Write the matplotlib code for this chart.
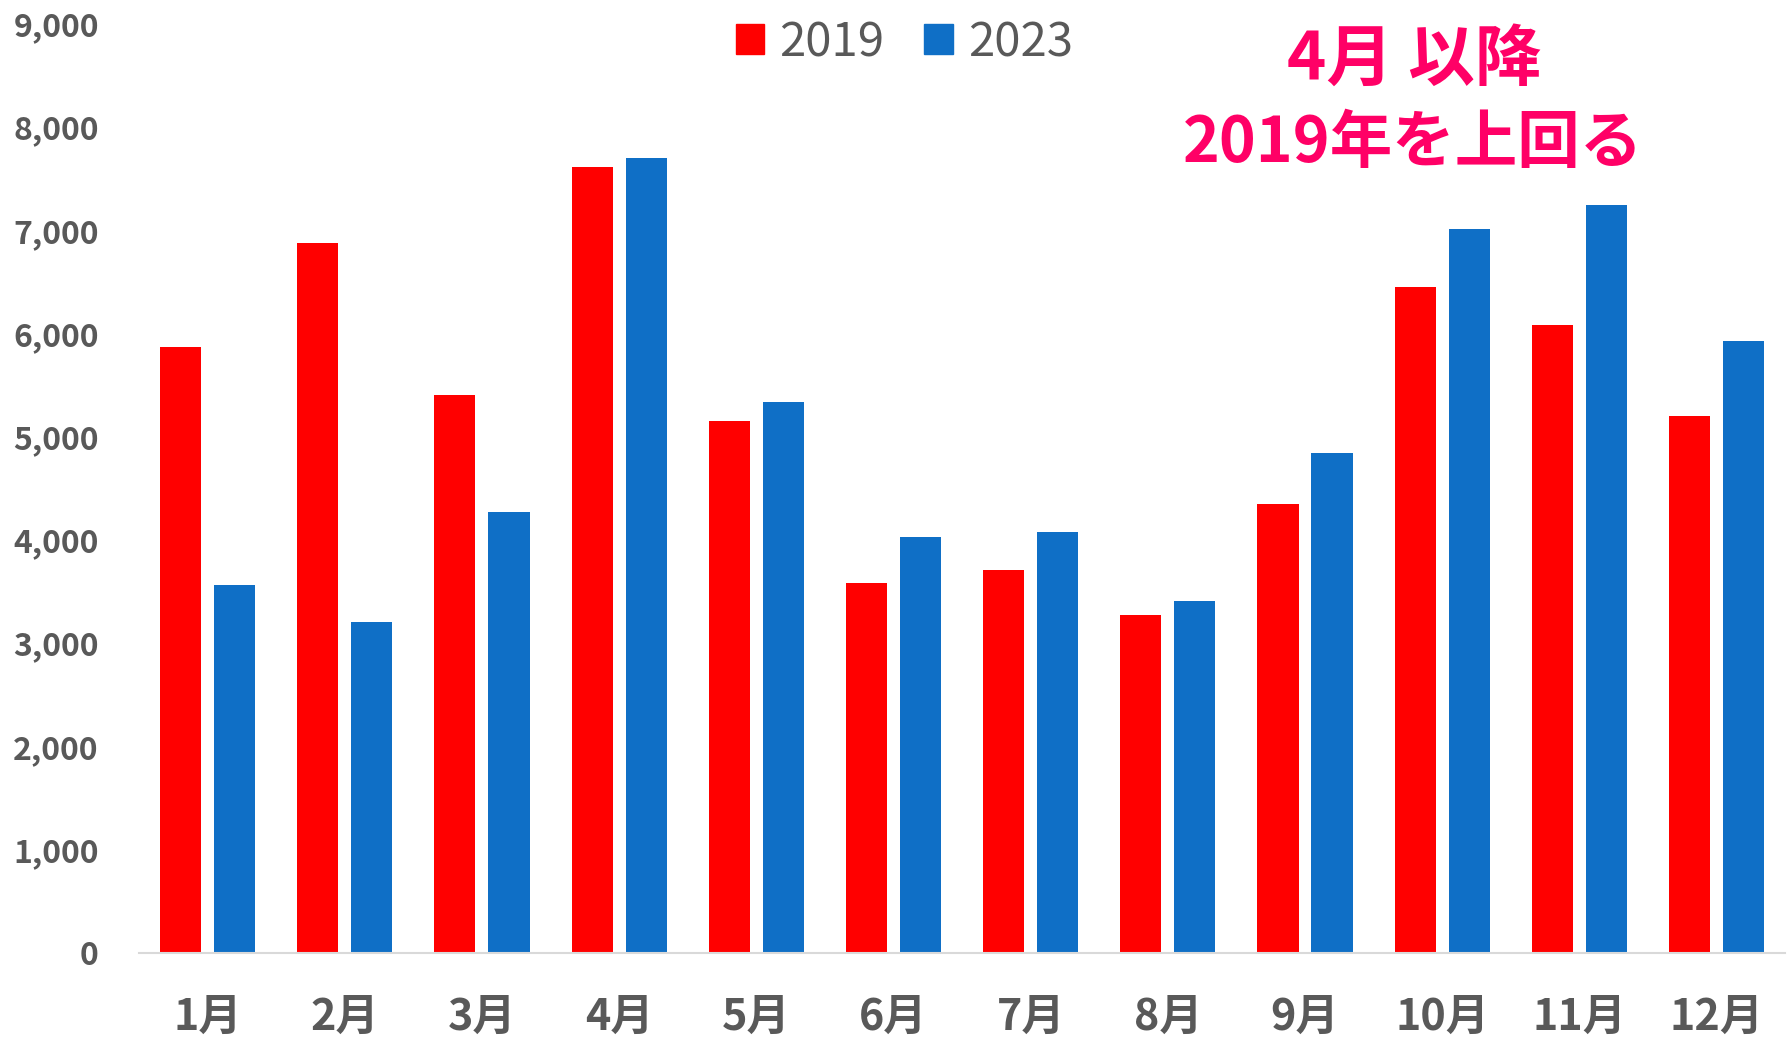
import numpy as np
import matplotlib
matplotlib.use("Agg")
import matplotlib.pyplot as plt
from matplotlib.patches import Patch
from matplotlib.ticker import FuncFormatter

# -----------------------------
# Data
# -----------------------------
months = ["1月", "2月", "3月", "4月", "5月", "6月",
          "7月", "8月", "9月", "10月", "11月", "12月"]
values_2019 = [5870, 6880, 5400, 7610, 5150, 3580, 3710, 3270, 4350, 6450, 6085, 5200]
values_2023 = [3560, 3200, 4275, 7700, 5335, 4030, 4075, 3410, 4840, 7015, 7245, 5930]
series_labels = ["2019", "2023"]

RED = "#FF0000"
BLUE = "#0F6FC6"
GRAY = "#595959"
PINK = "#FF0066"

plt.rcParams["font.family"] = ["Noto Sans CJK JP", "DejaVu Sans"]

fig = plt.figure(figsize=(17.87, 10.45), dpi=100)
ax = fig.add_axes([0.0778, 0.0883, 0.9211, 0.8888])

x = np.arange(len(months))
bar_w = 0.30
offset = 0.197
ax.bar(x - offset, values_2019, width=bar_w, color=RED, label=series_labels[0])
ax.bar(x + offset, values_2023, width=bar_w, color=BLUE, label=series_labels[1])

ax.set_xlim(-0.5, len(months) - 0.5)
ax.set_ylim(0, 9000)
ax.set_yticks(np.arange(0, 9001, 1000))
ax.yaxis.set_major_formatter(FuncFormatter(lambda v, p: f"{int(v):,}"))
ax.set_xticks(x)
ax.set_xticklabels(months)

for side in ["top", "right", "left"]:
    ax.spines[side].set_visible(False)
ax.spines["bottom"].set_color("#D9D9D9")
ax.spines["bottom"].set_linewidth(1.5)

ax.tick_params(axis="y", length=0, pad=29, labelsize=23, labelcolor=GRAY)
ax.tick_params(axis="x", length=0, pad=30, labelsize=31, labelcolor=GRAY)
for lab in ax.get_yticklabels() + ax.get_xticklabels():
    lab.set_fontweight("bold")

# legend at the top
handles = [Patch(color=RED), Patch(color=BLUE)]
fig.legend(handles, series_labels, loc="center", bbox_to_anchor=(0.506, 0.959),
           ncol=2, frameon=False, fontsize=34, labelcolor=GRAY,
           handlelength=0.6, handleheight=0.6, handletextpad=0.32,
           columnspacing=0.85, borderaxespad=0)

# annotation
fig.text(1414 / 1787, 1 - 60 / 1045, "4月 以降", color=PINK, fontsize=48,
         fontweight="bold", ha="center", va="center")
fig.text(1413 / 1787, 1 - 143 / 1045, "2019年を上回る", color=PINK, fontsize=45,
         fontweight="bold", ha="center", va="center")

fig.savefig("out.png", dpi=100)
